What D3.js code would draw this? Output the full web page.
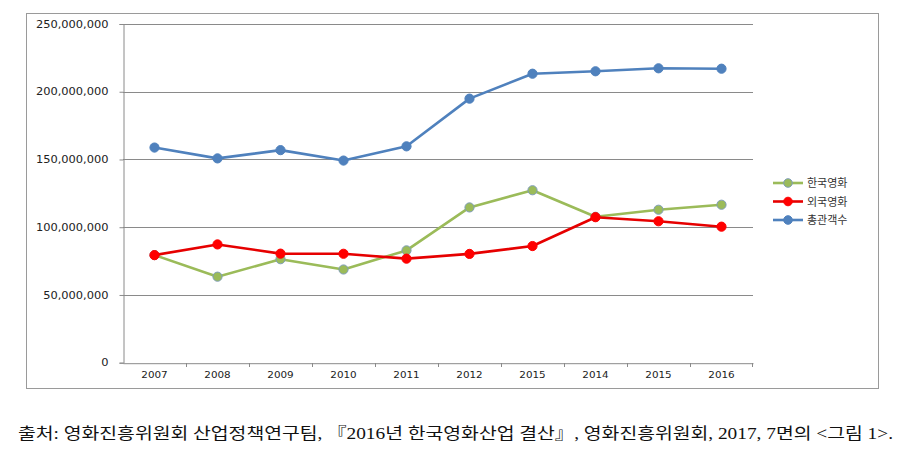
<!DOCTYPE html>
<html><head><meta charset="utf-8">
<script src="https://cdn.jsdelivr.net/npm/d3@7"></script>
<style>
html,body{margin:0;padding:0;background:#fff;}
svg{display:block;}
</style></head>
<body>
<svg id="c" width="901" height="468"></svg>
<script>
const years = ["2007","2008","2009","2010","2011","2012","2013","2014","2015","2016"];
const yearLabels = ["2007","2008","2009","2010","2011","2012","2015","2014","2015","2016"];
const korean  = [79400000, 63500000, 76400000, 68800000, 82900000, 114600000, 127300000, 107700000, 112900000, 116600000];
const foreign = [79400000, 87300000, 80500000, 80400000, 76800000, 80300000, 86100000, 107400000, 104400000, 100400000];
const total   = [158800000, 150800000, 156900000, 149200000, 159700000, 194900000, 213300000, 215100000, 217300000, 217000000];
const seriesNames = ["한국영화","외국영화","총관객수"];
const yTicks = [0, 50000000, 100000000, 150000000, 200000000, 250000000];
const caption = "출처: 영화진흥위원회 산업정책연구팀, 『2016년 한국영화산업 결산』, 영화진흥위원회, 2017, 7면의 <그림 1>.";

const series = [
  {name: seriesNames[0], values: korean, line: "#9BBB59", fill: "#9BBB59", stroke: "#7f9db9"},
  {name: seriesNames[1], values: foreign, line: "#E60000", fill: "#FF0000", stroke: "#FF0000"},
  {name: seriesNames[2], values: total, line: "#4F81BD", fill: "#4F81BD", stroke: "#4F81BD"}
];

const svg = d3.select("#c");
// outer frame
svg.append("rect").attr("x",26.5).attr("y",13.5).attr("width",852).attr("height",375)
  .attr("fill","none").attr("stroke","#9a9a9a").attr("stroke-width",1);

const x = d3.scaleBand().domain(years).range([123, 753]);
const y = d3.scaleLinear().domain([0, 250000000]).range([362.7, 24]);

// gridlines
svg.append("g").selectAll("line").data(yTicks.filter(d=>d>0)).join("line")
  .attr("x1",123).attr("x2",753)
  .attr("y1",d=>Math.round(y(d))+0.5).attr("y2",d=>Math.round(y(d))+0.5)
  .attr("stroke","#8a8a8a").attr("stroke-width",1);

// y axis
const yAxis = svg.append("g").attr("transform","translate(123.5,0)")
  .call(d3.axisLeft(y).tickValues(yTicks).tickSize(4).tickFormat(d3.format(",")));
yAxis.select(".domain").attr("stroke","#8a8a8a");
yAxis.selectAll(".tick line").attr("stroke","#8a8a8a");
yAxis.selectAll(".tick text").attr("x",-15).attr("font-family","DejaVu Sans").attr("font-size",10).attr("fill","#222")
  .each(function(){ const L=this.getComputedTextLength(); d3.select(this).attr("textLength",L*1.14).attr("lengthAdjust","spacingAndGlyphs"); });

// x axis
const xAxis = svg.append("g").attr("transform","translate(0,363.2)")
  .call(d3.axisBottom(x).tickSize(0).tickFormat((d,i)=>yearLabels[i]));
xAxis.select(".domain").attr("stroke","#8a8a8a");
xAxis.selectAll(".tick text").attr("y",9).attr("font-family","DejaVu Sans").attr("font-size",8.5).attr("fill","#222")
  .each(function(){ const L=this.getComputedTextLength(); d3.select(this).attr("textLength",L*1.22).attr("lengthAdjust","spacingAndGlyphs"); });
// boundary ticks
svg.append("g").selectAll("line").data(years.slice(1).concat(["end"])).join("line")
  .attr("x1",d=>d==="end"?752.5:Math.round(x(d))+0.5).attr("x2",d=>d==="end"?752.5:Math.round(x(d))+0.5)
  .attr("y1",363).attr("y2",367).attr("stroke","#8a8a8a");

const line = d3.line().x((d,i)=>x(years[i])+x.bandwidth()/2).y(d=>y(d));
series.forEach(s=>{
  const g = svg.append("g");
  g.append("path").datum(s.values).attr("d",line).attr("fill","none")
    .attr("stroke",s.line).attr("stroke-width",2.6).attr("stroke-linejoin","round");
  g.selectAll("circle").data(s.values).join("circle")
    .attr("cx",(d,i)=>x(years[i])+x.bandwidth()/2).attr("cy",d=>y(d)).attr("r",4.6)
    .attr("fill",s.fill).attr("stroke",s.stroke).attr("stroke-width",1);
});

// legend
const lg = svg.append("g");
series.forEach((s,i)=>{
  const yy = 183 + i*18.5;
  lg.append("line").attr("x1",773).attr("x2",803).attr("y1",yy).attr("y2",yy)
    .attr("stroke",s.line).attr("stroke-width",2.6);
  lg.append("circle").attr("cx",788).attr("cy",yy).attr("r",4.3).attr("fill",s.fill).attr("stroke",s.stroke);
  lg.append("text").attr("x",807).attr("y",yy+4).attr("font-family","Noto Sans CJK KR").attr("font-size",11)
    .attr("fill","#333").text(s.name);
});

// caption
svg.append("text").attr("x",18).attr("y",439).attr("font-family","Liberation Serif, 'Noto Sans CJK KR'")
  .attr("font-size",16).attr("fill","#111").attr("textLength",875).attr("lengthAdjust","spacingAndGlyphs")
  .text(caption);
</script>
</body></html>
